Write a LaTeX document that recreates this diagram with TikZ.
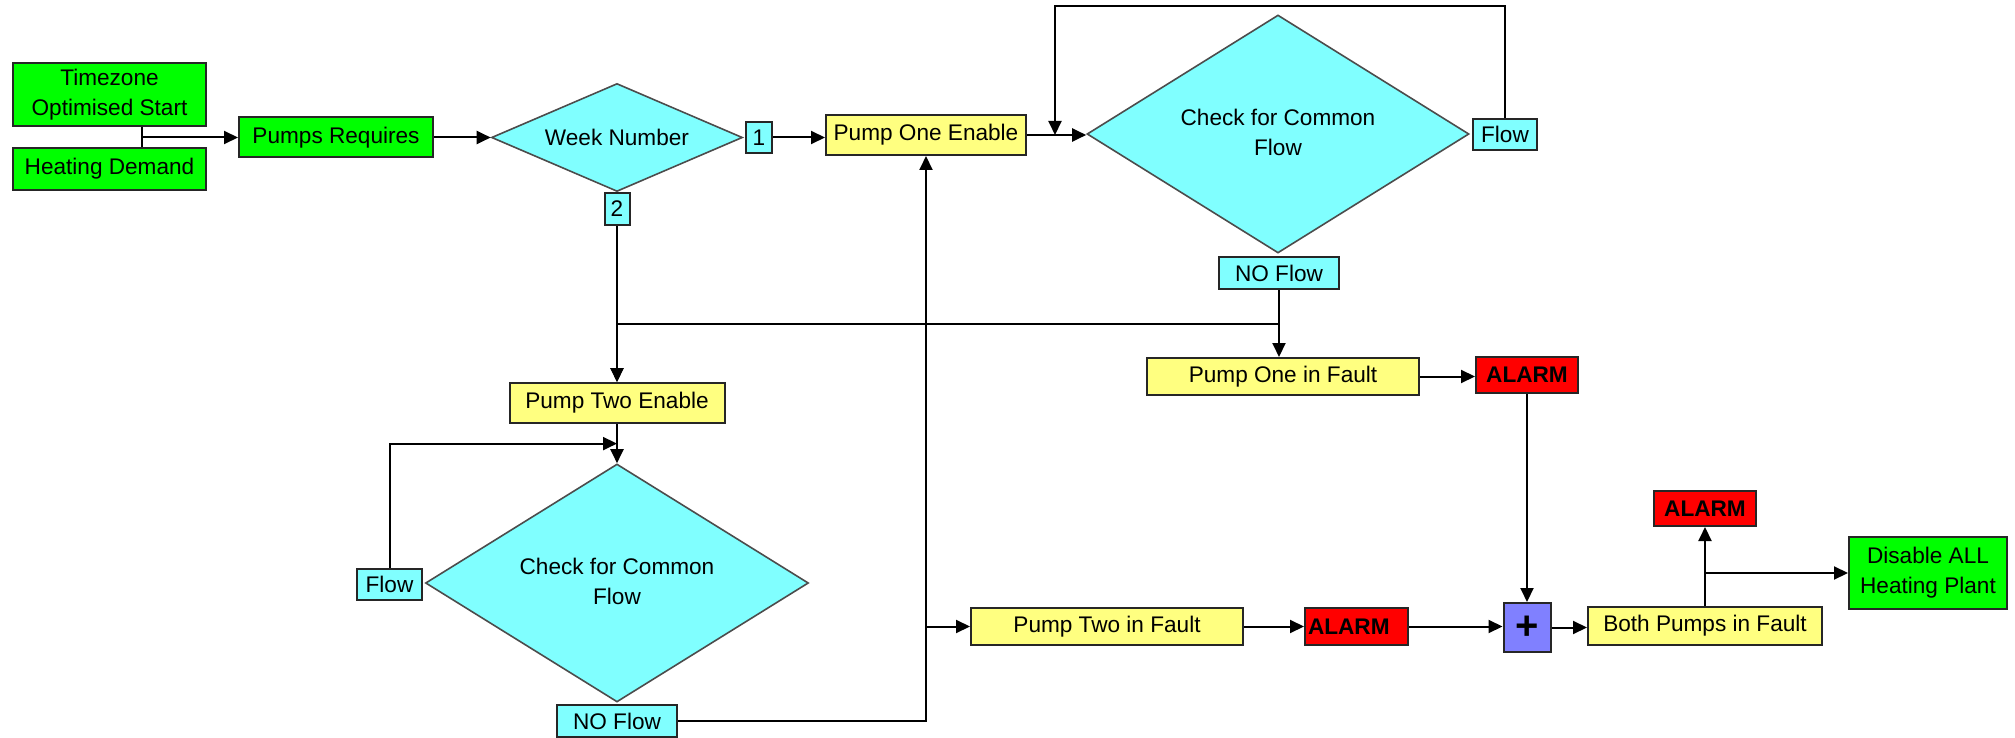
\documentclass[tikz,border=0pt]{standalone}
\usepackage{fontspec}
\setmainfont{Liberation Sans}
\usetikzlibrary{shapes.geometric,arrows.meta,calc}
\definecolor{cgreen}{HTML}{00FF00}
\definecolor{cyellow}{HTML}{FFFF80}
\definecolor{ccyan}{HTML}{80FFFF}
\definecolor{cred}{HTML}{FF0000}
\definecolor{cblue}{HTML}{8080FF}
\begin{document}
\begin{tikzpicture}[x=0.5pt,y=-0.5pt,
  base/.style={rectangle, draw=black!85, line width=1pt, inner sep=0pt,
    font=\fontsize{11.3}{15}\selectfont, align=center},
  gbox/.style={base, fill=cgreen},
  ybox/.style={base, fill=cyellow},
  cbox/.style={base, fill=ccyan},
  rbox/.style={base, fill=cred, font=\fontsize{11.3}{15}\selectfont\bfseries},
  pbox/.style={base, fill=cblue, font=\fontsize{20}{20}\selectfont\bfseries},
  dia/.style={diamond, draw=black!70, line width=0.8pt, fill=ccyan, inner sep=0pt,
    font=\fontsize{11.3}{15}\selectfont, align=center},
  arr/.style={line width=1pt, -{Triangle[length=7pt,width=6.5pt]}},
  ln/.style={line width=1pt}]
\useasboundingbox (0,0) rectangle (2015,738);

% left inputs
\node[gbox, minimum width=96.5pt, minimum height=31.5pt] (tz) at (109.5,94.5) {Timezone\\Optimised Start};
\node[gbox, minimum width=96.5pt, minimum height=21pt] (hd) at (109.5,169) {Heating Demand};
\node[gbox, minimum width=97pt, minimum height=20pt] (pr) at (336,137.5) {Pumps Requires};

% week number
\node[dia, aspect=2.3, minimum width=125.5pt, minimum height=54pt] (wn) at (617,137.5) {Week Number};
\node[cbox, minimum width=13pt, minimum height=15.5pt] (b1) at (759,137.5) {1};
\node[cbox, minimum width=12.5pt, minimum height=16pt] (b2) at (617,209) {2};

% pump one
\node[ybox, minimum width=100pt, minimum height=20pt] (pe1) at (926,135) {Pump One Enable};
\node[dia, aspect=1.6, minimum width=191pt, minimum height=119pt] (cd1) at (1278,134)
  {\raisebox{3pt}{\begin{tabular}{@{}c@{}}Check for Common\\Flow\end{tabular}}};
\node[cbox, minimum width=32pt, minimum height=15.5pt] (f1) at (1505,134.5) {Flow};
\node[cbox, minimum width=60pt, minimum height=16pt] (nf1) at (1279,273) {NO Flow};
\node[ybox, minimum width=136pt, minimum height=18.5pt] (po1) at (1283,376.5) {Pump One in Fault};
\node[rbox, minimum width=51pt, minimum height=18pt] (al1) at (1527,375) {ALARM};

% pump two
\node[ybox, minimum width=107.5pt, minimum height=20pt] (pe2) at (617,403) {Pump Two Enable};
\node[dia, aspect=1.6, minimum width=191.5pt, minimum height=119pt] (cd2) at (617,583)
  {\raisebox{2.5pt}{\begin{tabular}{@{}c@{}}Check for Common\\Flow\end{tabular}}};
\node[cbox, minimum width=32.5pt, minimum height=15.5pt] (f2) at (389.5,584.5) {Flow};
\node[cbox, minimum width=60pt, minimum height=16pt] (nf2) at (617,721) {NO Flow};
\node[ybox, minimum width=136pt, minimum height=18.5pt] (pt2) at (1107,626.5) {Pump Two in Fault};
\node[rbox, text width=48.5pt, inner xsep=1.5pt, align=left, minimum height=18.5pt] (al2) at (1356.5,626.5) {ALARM};

% combination
\node[pbox, minimum width=23.5pt, minimum height=24.5pt] (plus) at (1527,627.5) {+};
\node[ybox, minimum width=117pt, minimum height=19pt] (bp) at (1705,626) {Both Pumps in Fault};
\node[rbox, minimum width=51pt, minimum height=17.5pt] (al3) at (1705,508.5) {ALARM};
\node[gbox, minimum width=79pt, minimum height=36pt] (dis) at (1928,573) {Disable ALL\\Heating Plant};

% connectors
\coordinate (j0) at (142,137.5);
\draw[ln] (j0 |- tz.south) -- (j0 |- hd.north);
\draw[arr] (j0) -- (j0 -| pr.west);
\draw[arr] (pr.east) -- (wn.west);
\draw[arr] (b1.east) -- (b1.east -| pe1.west);
\draw[arr] (pe1.east) -- (pe1.east -| cd1.west);
\coordinate (lt) at (1055,6);
\draw[arr] (f1.north) |- (lt) -- (lt |- pe1.east);
\draw[arr] (nf1.south) -- (nf1.south |- po1.north);
\coordinate (j1) at (1279,324);
\draw[arr] (j1) -| (pe2.north);
\draw[arr] (b2.south) -- (pe2.north);
\draw[arr] (po1.east) -- (po1.east -| al1.west);
\draw[arr] (pe2.south) -- (cd2.north);
\draw[arr] (f2.north) |- ($(pe2.south)!0.5!(cd2.north)$);
\draw[arr] (nf2.east) -| (pe1.south);
\draw[arr] (pe1.south |- pt2.west) -- (pt2.west);
\draw[arr] (pt2.east) -- (al2.west);
\draw[arr] (al2.east) -- (al2.east -| plus.west);
\draw[arr] (al1.south) -- (plus.north);
\draw[arr] (plus.east) -- (plus.east -| bp.west);
\draw[arr] (bp.north) -- (al3.south);
\draw[arr] (bp.north |- dis.west) -- (dis.west);
\end{tikzpicture}
\end{document}
